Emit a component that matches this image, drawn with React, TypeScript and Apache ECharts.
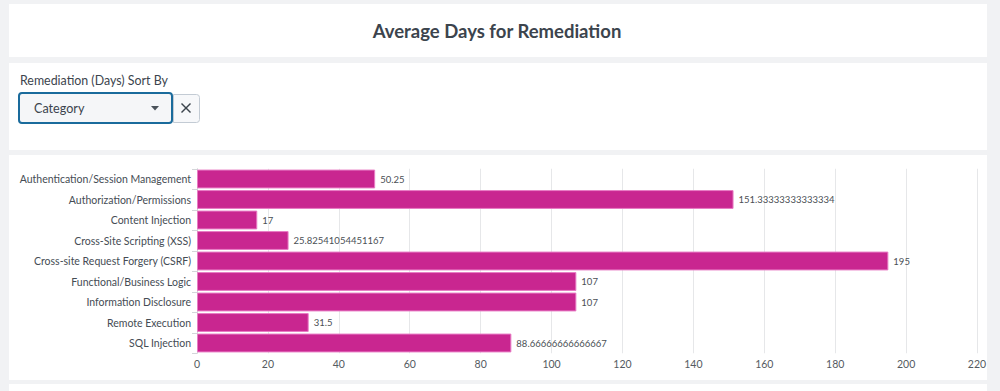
import React, { useEffect, useRef } from "react";
import * as echarts from "echarts";

const categories = [
  "Authentication/Session Management",
  "Authorization/Permissions",
  "Content Injection",
  "Cross-Site Scripting (XSS)",
  "Cross-site Request Forgery (CSRF)",
  "Functional/Business Logic",
  "Information Disclosure",
  "Remote Execution",
  "SQL Injection",
];
const avgDays = [
  50.25,
  151.33333333333334,
  17,
  25.82541054451167,
  195,
  107,
  107,
  31.5,
  88.66666666666667,
];
const titleText = "Average Days for Remediation";
const inputLabel = "Remediation (Days) Sort By";
const dropdownValue = "Category";

const FONT = "Lato, 'Open Sans', sans-serif";
const TEXT = "#3c444d";

export default function App() {
  const ref = useRef<HTMLDivElement>(null);
  useEffect(() => {
    if (!ref.current) return;
    const chart = echarts.init(ref.current, null, { renderer: "svg" });
    chart.setOption({
      animation: false,
      backgroundColor: "#f1f2f4",
      textStyle: { fontFamily: FONT },
      graphic: [
        { type: "rect", z: -10, shape: { x: 9, y: 4, width: 978, height: 53 }, style: { fill: "#ffffff" } },
        { type: "rect", z: -10, shape: { x: 9, y: 63, width: 978, height: 87 }, style: { fill: "#ffffff" } },
        { type: "rect", z: -10, shape: { x: 9, y: 155, width: 978, height: 225 }, style: { fill: "#ffffff" } },
        { type: "rect", z: -10, shape: { x: 9, y: 384, width: 978, height: 20 }, style: { fill: "#ffffff" } },
        {
          type: "text",
          x: 497,
          y: 31,
          style: {
            text: titleText,
            fontSize: 18.5,
            fontWeight: "bold",
            fill: TEXT,
            fontFamily: FONT,
            align: "center",
            verticalAlign: "middle",
          },
        },
        {
          type: "text",
          x: 20,
          y: 80,
          style: { text: inputLabel, fontSize: 12.4, fill: TEXT, fontFamily: FONT, verticalAlign: "middle" },
        },
        {
          type: "rect",
          shape: { x: 19, y: 93, width: 153, height: 30, r: 3 },
          style: { fill: "#f5f6f8", stroke: "#1a6b9c", lineWidth: 2 },
        },
        {
          type: "text",
          x: 34,
          y: 108,
          style: { text: dropdownValue, fontSize: 12.6, fill: TEXT, fontFamily: FONT, verticalAlign: "middle" },
        },
        {
          type: "polygon",
          shape: { points: [[151, 106], [159, 106], [155, 110.5]] },
          style: { fill: "#4a525a" },
        },
        {
          type: "rect",
          shape: { x: 173.5, y: 94.5, width: 26, height: 28, r: [0, 3, 3, 0] },
          style: { fill: "#f7f8fa", stroke: "#c3cbd4", lineWidth: 1 },
        },
        { type: "line", shape: { x1: 181.5, y1: 103.5, x2: 190.5, y2: 112.5 }, style: { stroke: TEXT, lineWidth: 1.4 } },
        { type: "line", shape: { x1: 190.5, y1: 103.5, x2: 181.5, y2: 112.5 }, style: { stroke: TEXT, lineWidth: 1.4 } },
      ],
      grid: { left: 197, right: 23, top: 168.75, bottom: 37.75, containLabel: false },
      xAxis: {
        type: "value",
        min: 0,
        max: 220,
        interval: 20,
        axisLine: { show: false },
        axisTick: { show: false },
        axisLabel: { color: "#555b61", fontSize: 10.5, margin: 5, fontFamily: FONT },
        splitLine: { show: true, lineStyle: { color: "#e6e7e9", width: 1 } },
      },
      yAxis: {
        type: "category",
        data: categories,
        inverse: true,
        axisLine: { show: true, lineStyle: { color: "#d3d6d9" } },
        axisTick: { show: true, length: 5, lineStyle: { color: "#d3d6d9" } },
        axisLabel: { color: "#454c54", fontSize: 10.5, margin: 6, fontFamily: FONT },
      },
      series: [
        {
          type: "bar",
          data: avgDays,
          barCategoryGap: "8%",
          itemStyle: { color: "#c92690", borderColor: "#e87cc4", borderWidth: 1 },
          label: {
            show: true,
            position: "right",
            distance: 5,
            color: "#4a4f55",
            fontSize: 9.5,
            fontFamily: FONT,
            formatter: (p: any) => String(p.value),
          },
        },
      ],
    });
    return () => chart.dispose();
  }, []);
  return (
    <div
      ref={ref}
      style={{ position: "fixed", left: 0, top: 0, width: 1000, height: 391 }}
    />
  );
}
